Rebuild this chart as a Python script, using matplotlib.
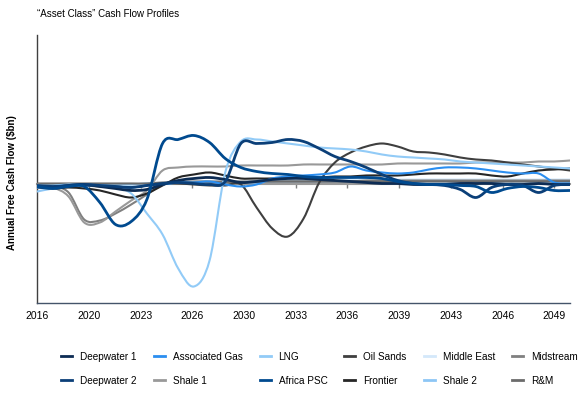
import numpy as np
import matplotlib
matplotlib.use("Agg")
import matplotlib.pyplot as plt
from matplotlib.path import Path
from matplotlib.patches import PathPatch
from matplotlib.lines import Line2D

plt.rcParams['font.family'] = ['Liberation Sans', 'DejaVu Sans']

# annual free cash flow profiles, 2016-2050 (arbitrary $bn scale)
years = list(range(2016, 2051))

deepwater_1 = [-0.2, -0.3, -0.1, 0.0, -0.2, -0.4, -0.6, -0.5, 0.0, 0.4, 0.6, 0.7, 0.5, 0.2, 0.3, 0.5, 0.6, 0.6,
               0.5, 0.4, 0.3, 0.2, 0.1, 0.1, 0.0, 0.0, 0.0, 0.1, 0.1, 0.1, 0.0, 0.0, 0.1, 0.0, 0.0]
associated_gas = [-0.3, -0.2, -0.1, -0.1, -0.1, -0.2, -0.3, -0.1, 0.0, 0.2, 0.2, 0.3, 0.0, -0.2, 0.0, 0.6, 0.8, 0.9,
                  1.0, 1.2, 1.8, 1.4, 1.2, 1.1, 1.2, 1.5, 1.7, 1.7, 1.6, 1.4, 1.2, 1.1, 1.1, 0.2, 0.1]
lng = [-0.1, -0.1, 0.0, 0.0, -0.1, -0.3, -0.9, -2.9, -5.0, -8.4, -10.2, -7.6, 1.2, 4.3, 4.5, 4.3, 4.1, 3.9,
       3.7, 3.6, 3.5, 3.3, 3.0, 2.8, 2.7, 2.6, 2.5, 2.3, 2.2, 2.1, 2.0, 1.9, 1.8, 1.7, 1.6]
oil_sands = [-0.1, -0.1, -0.1, -0.1, -0.2, -0.2, -0.3, -0.1, 0.1, 0.1, 0.0, -0.1, -0.1, 0.0, -2.3, -4.4, -5.2, -3.4,
             0.2, 2.2, 3.2, 3.8, 4.1, 3.8, 3.3, 3.2, 3.0, 2.7, 2.5, 2.4, 2.2, 2.0, 1.8, 1.6, 1.4]
middle_east = [-0.3, -0.3, -0.2, -0.1, -0.1, 0.0, 0.0, 0.1, 0.2, 0.3, 0.3, 0.3, 0.3, 0.3, 0.4, 0.4, 0.4, 0.4,
               0.4, 0.4, 0.5, 0.5, 0.5, 0.5, 0.5, 0.5, 0.5, 0.5, 0.5, 0.5, 0.5, 0.5, 0.5, 0.5, 0.5]
midstream = [0.0, -0.2, -0.8, -3.5, -3.6, -2.9, -2.0, -1.0, 0.0, 0.2, 0.3, 0.3, 0.3, 0.3, 0.3, 0.3, 0.3, 0.3,
             0.3, 0.3, 0.3, 0.4, 0.4, 0.4, 0.4, 0.4, 0.4, 0.4, 0.4, 0.4, 0.4, 0.4, 0.4, 0.4, 0.4]
deepwater_2 = [-0.1, -0.2, -0.1, 0.0, -0.1, -0.2, -0.3, -0.1, 0.1, 0.2, 0.1, 0.0, 0.3, 4.1, 4.1, 4.2, 4.5, 4.3,
               3.6, 2.8, 2.3, 1.7, 1.0, 0.4, 0.1, 0.0, -0.1, -0.5, -1.3, -0.3, 0.0, -0.1, -0.8, -0.1, 0.0]
shale_1 = [0.0, -0.3, -1.2, -3.8, -3.8, -2.7, -1.6, -0.6, 1.4, 1.7, 1.8, 1.8, 1.8, 1.9, 1.9, 1.9, 1.9, 2.0,
           2.0, 2.0, 2.0, 2.0, 2.0, 2.1, 2.1, 2.1, 2.1, 2.1, 2.2, 2.2, 2.2, 2.2, 2.3, 2.3, 2.4]
africa_psc = [-0.2, -0.4, -0.2, -0.2, -1.8, -4.0, -3.7, -1.5, 4.1, 4.5, 4.9, 4.2, 2.6, 1.7, 1.3, 1.1, 1.0, 0.8,
              0.7, 0.7, 0.7, 0.7, 0.6, 0.3, 0.1, 0.0, 0.0, -0.1, -0.2, -0.8, -0.4, -0.2, -0.3, -0.6, -0.6]
frontier = [-0.3, -0.4, -0.3, -0.4, -0.6, -1.0, -1.3, -0.9, -0.1, 0.7, 1.0, 1.2, 0.9, 0.6, 0.6, 0.6, 0.7, 0.7,
            0.7, 0.8, 0.8, 0.9, 0.9, 0.9, 1.0, 1.1, 1.1, 1.1, 1.1, 0.9, 0.8, 1.1, 1.4, 1.5, 1.6]
shale_2 = [-0.7, -0.4, -0.2, -0.1, 0.0, 0.0, 0.0, 0.1, 0.1, 0.2, 0.2, 0.2, 0.2, 0.2, 0.2, 0.3, 0.3, 0.3,
           0.3, 0.3, 0.3, 0.3, 0.3, 0.3, 0.3, 0.3, 0.3, 0.3, 0.3, 0.3, 0.3, 0.3, 0.3, 0.3, 0.3]
r_and_m = [0.1, 0.1, 0.1, 0.1, 0.1, 0.1, 0.1, 0.1, 0.2, 0.2, 0.2, 0.2, 0.2, 0.2, 0.3, 0.3, 0.3, 0.3,
           0.3, 0.3, 0.3, 0.3, 0.3, 0.3, 0.3, 0.3, 0.3, 0.3, 0.3, 0.3, 0.3, 0.3, 0.3, 0.3, 0.3]

tick_labels = ['2016', '2020', '2023', '2026', '2030', '2033', '2036', '2039', '2043', '2046', '2049']

# legend order (row 1 then row 2, as in the reference)
row1 = [('Deepwater 1', deepwater_1, '#0d2c54'),
        ('Associated Gas', associated_gas, '#2b8ef0'),
        ('LNG', lng, '#92cbf7'),
        ('Oil Sands', oil_sands, '#3f3f3f'),
        ('Middle East', middle_east, '#d4e8fa'),
        ('Midstream', midstream, '#808080')]
row2 = [('Deepwater 2', deepwater_2, '#0b3f78'),
        ('Shale 1', shale_1, '#999999'),
        ('Africa PSC', africa_psc, '#004a8f'),
        ('Frontier', frontier, '#262626'),
        ('Shale 2', shale_2, '#8dc6f5'),
        ('R&M', r_and_m, '#6b6b6b')]

y_min, y_max = -11.85, 14.95


def smooth_path(x, y):
    # Excel-style smoothed line: cubic bezier through every data point
    x = np.asarray(x, float)
    y = np.asarray(y, float)
    pts = np.column_stack([x, y])
    verts = [pts[0]]
    codes = [Path.MOVETO]
    n = len(pts)
    for i in range(n - 1):
        p0 = pts[i - 1] if i > 0 else pts[i]
        p1 = pts[i]
        p2 = pts[i + 1]
        p3 = pts[i + 2] if i + 2 < n else pts[i + 1]
        c1 = p1 + (p2 - p0) / 6.0
        c2 = p2 - (p3 - p1) / 6.0
        verts += [c1, c2, p2]
        codes += [Path.CURVE4] * 3
    return Path(verts, codes)


fig = plt.figure(figsize=(5.81, 3.93), dpi=100)
ax = fig.add_axes([0.064, 0.229, 0.917, 0.682])

handles_by_name = {}
draw_order = row1[4:5] + row2[4:5] + row1[5:6] + row2[5:6] + row2[1:2] + row1[3:4] + row2[3:4] \
    + row1[2:3] + row1[1:2] + row1[0:1] + row2[0:1] + row2[2:3]
for name, vals, col in draw_order:
    lw = 2.0 if col in ('#0b3f78', '#004a8f', '#0d2c54') else 1.5
    patch = PathPatch(smooth_path(years, vals), facecolor='none', edgecolor=col, lw=lw,
                      joinstyle='round', capstyle='round', zorder=3)
    ax.add_patch(patch)
    handles_by_name[name] = Line2D([], [], color=col, lw=2.0)

ax.set_xlim(2016, 2050)
ax.set_ylim(y_min, y_max)

ticks = 2016 + np.arange(len(tick_labels)) * 3.3
ax.set_xticks(ticks)
ax.set_xticklabels(tick_labels, fontsize=7.5)
ax.tick_params(axis='x', length=0, pad=6, colors='#000000')
ax.set_yticks([])

for s in ['top', 'right']:
    ax.spines[s].set_visible(False)
ax.spines['left'].set_color('#404040')
ax.spines['bottom'].set_color('#44546a')
ax.spines['left'].set_linewidth(1.0)
ax.spines['bottom'].set_linewidth(1.0)

# zero line with its own tick marks
zero_frac = (0 - y_min) / (y_max - y_min)
sec = ax.secondary_xaxis(zero_frac)
sec.set_xticks(ticks)
sec.set_xticklabels([''] * len(ticks))
sec.tick_params(direction='out', length=3, color='#7f7f7f', width=1)
sec.spines['bottom'].set_color('#9a9a9a')
sec.spines['bottom'].set_linewidth(1.5)

ax.set_ylabel('Annual Free Cash Flow ($bn)', fontsize=7, fontweight='bold')
ax.yaxis.set_label_coords(-0.038, 0.448)

fig.text(0.064, 0.965, '\u201cAsset Class\u201d Cash Flow Profiles', fontsize=7, ha='left', va='center')

handles = []
labels = []
for a, b in zip(row1, row2):
    handles += [handles_by_name[a[0]], handles_by_name[b[0]]]
    labels += [a[0], b[0]]
leg = fig.legend(handles, labels, loc='center', bbox_to_anchor=(0.55, 0.062), ncol=6, frameon=False,
                 fontsize=7.2, handlelength=1.1, handletextpad=0.8, columnspacing=1.7, labelspacing=1.4)

fig.savefig('out.png', dpi=100)
